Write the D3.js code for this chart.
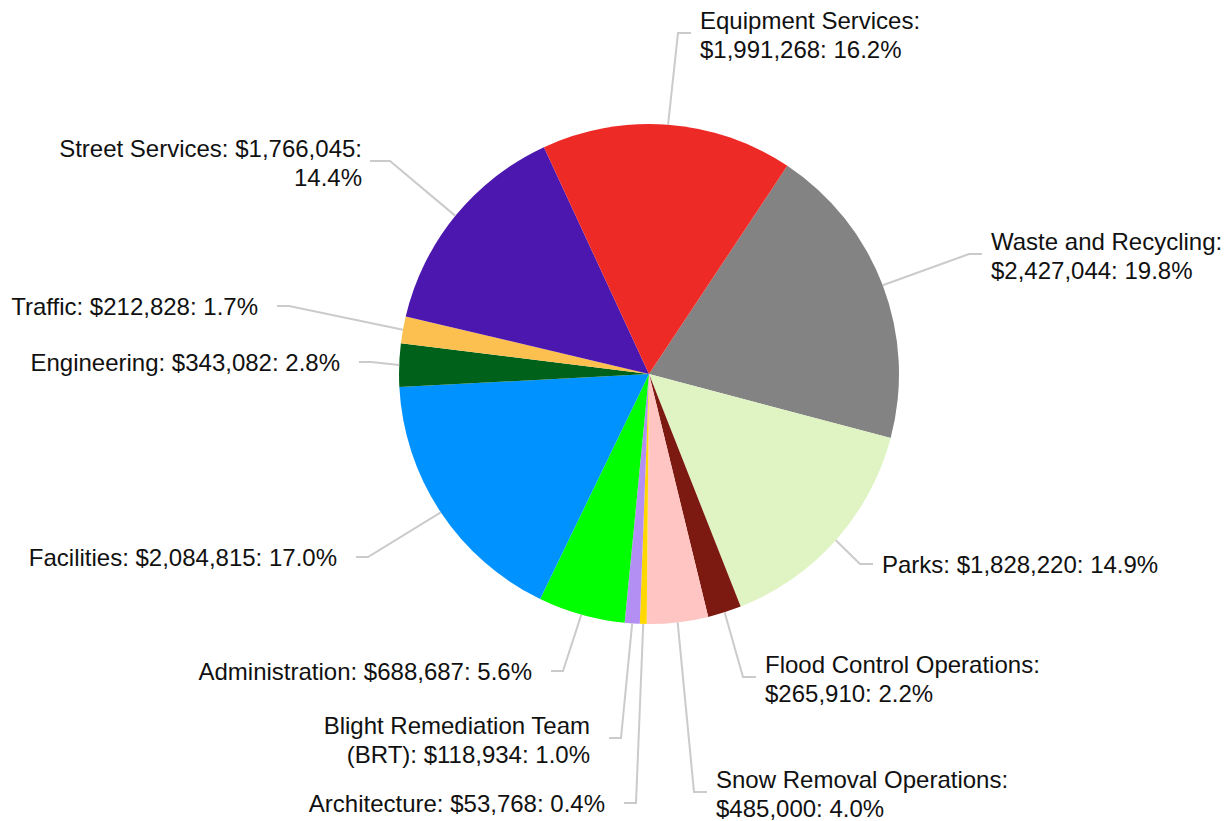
<!DOCTYPE html>
<html>
<head>
<meta charset="utf-8">
<script src="https://cdn.jsdelivr.net/npm/d3@7"></script>
<style>
  html, body { margin: 0; padding: 0; background: #ffffff; }
  svg { display: block; }
</style>
</head>
<body>
<svg id="chart" width="1228" height="821"></svg>
<script>
// Department budgets, listed clockwise from the Waste and Recycling slice
const categories = [
  "Waste and Recycling",
  "Parks",
  "Flood Control Operations",
  "Snow Removal Operations",
  "Architecture",
  "Blight Remediation Team (BRT)",
  "Administration",
  "Facilities",
  "Engineering",
  "Traffic",
  "Street Services",
  "Equipment Services"
];
const budgets = [
  2427044, 1828220, 265910, 485000, 53768, 118934,
  688687, 2084815, 343082, 212828, 1766045, 1991268
];
const sliceColors = [
  "#838383", "#DFF3C3", "#7C1911", "#FFC5C2", "#FFD800", "#B38EF3",
  "#00FF00", "#0092FF", "#00621A", "#FBC04F", "#4B17AF", "#EE2A27"
];

// Where each label block sits: anchor x, vertical centre, side, wrap width
const labelPlacement = {
  "Waste and Recycling":           { side: "right", x: 991, y: 254, wrap: 240 },
  "Parks":                         { side: "right", x: 882, y: 564 },
  "Flood Control Operations":      { side: "right", x: 765, y: 677, wrap: 290 },
  "Snow Removal Operations":       { side: "right", x: 716, y: 792, wrap: 300 },
  "Architecture":                  { side: "left",  x: 605, y: 803 },
  "Blight Remediation Team (BRT)": { side: "left",  x: 590, y: 738, wrap: 275 },
  "Administration":                { side: "left",  x: 532, y: 671 },
  "Facilities":                    { side: "left",  x: 337, y: 557 },
  "Engineering":                   { side: "left",  x: 340, y: 362 },
  "Traffic":                       { side: "left",  x: 258, y: 306 },
  "Street Services":               { side: "left",  x: 362, y: 161, wrap: 310, gap: 8, reach: 28 },
  "Equipment Services":            { side: "right", x: 700, y: 33,  wrap: 230 }
};

const width = 1228, height = 821;
const cx = 649, cy = 374, radius = 250;
const fontSize = 24, lineHeight = 28.5;

const svg = d3.select("#chart");
const total = d3.sum(budgets);
const fmtMoney = d3.format(",");
const fmtPct = d3.format(".1%");

const rows = categories.map((name, i) => ({ name, value: budgets[i], color: sliceColors[i] }));

const startDeg = 33.6;
const pie = d3.pie()
  .sort(null)
  .value(d => d.value)
  .startAngle(startDeg * Math.PI / 180)
  .endAngle((startDeg + 360) * Math.PI / 180);

const arcs = pie(rows);
const arc = d3.arc().innerRadius(0).outerRadius(radius);

const g = svg.append("g").attr("transform", `translate(${cx},${cy})`);

// Leader lines: from the slice edge at its mid-angle to an elbow, then a short horizontal tail
const leaders = svg.append("g")
  .attr("fill", "none")
  .attr("stroke", "#cbcbcb")
  .attr("stroke-width", 2);

arcs.forEach(a => {
  const p = labelPlacement[a.data.name];
  const mid = (a.startAngle + a.endAngle) / 2;
  const sx = cx + radius * Math.sin(mid);
  const sy = cy - radius * Math.cos(mid);
  let elbowX, tailX;
  if (p.side === "right") {
    elbowX = p.x - 22;
    tailX = p.x - 9;
  } else {
    const gap = p.gap != null ? p.gap : 19;
    const reach = p.reach != null ? p.reach : 31;
    elbowX = p.x + reach;
    tailX = p.x + gap;
  }
  leaders.append("path")
    .attr("d", d3.line()([[sx, sy], [elbowX, p.y], [tailX, p.y]]));
});

// Slices
g.selectAll("path.slice")
  .data(arcs)
  .join("path")
  .attr("class", "slice")
  .attr("d", arc)
  .attr("fill", d => d.data.color);

// Labels
const labels = svg.append("g")
  .attr("font-family", "'Liberation Sans', Arial, Helvetica, sans-serif")
  .attr("font-size", fontSize)
  .attr("fill", "#111111");

const measurer = labels.append("text").attr("visibility", "hidden");
function textWidth(s) {
  measurer.text(s);
  return measurer.node().getComputedTextLength();
}

function wrapWords(text, maxWidth) {
  if (!maxWidth) return [text];
  const words = text.split(" ");
  const lines = [];
  let current = "";
  words.forEach(w => {
    const trial = current ? current + " " + w : w;
    if (current && textWidth(trial) > maxWidth) {
      lines.push(current);
      current = w;
    } else {
      current = trial;
    }
  });
  if (current) lines.push(current);
  return lines;
}

arcs.forEach(a => {
  const p = labelPlacement[a.data.name];
  const full = `${a.data.name}: $${fmtMoney(a.data.value)}: ${fmtPct(a.data.value / total)}`;
  const lines = wrapWords(full, p.wrap);
  const firstBaseline = p.y + 8.5 - 12.5 * (lines.length - 1);
  const t = labels.append("text")
    .attr("text-anchor", p.side === "right" ? "start" : "end");
  lines.forEach((ln, k) => {
    t.append("tspan")
      .attr("x", p.x)
      .attr("y", firstBaseline + k * lineHeight)
      .text(ln);
  });
});

measurer.remove();
</script>
</body>
</html>
